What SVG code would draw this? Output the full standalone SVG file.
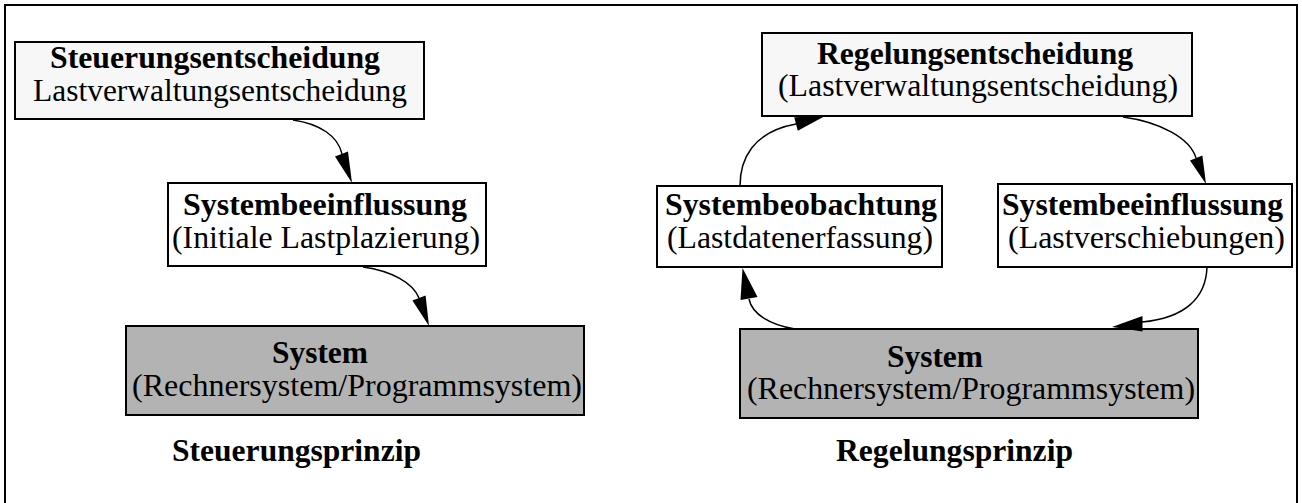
<svg xmlns="http://www.w3.org/2000/svg" width="1302" height="503" viewBox="0 0 1302 503">
  <style>
    .frame { fill: none; stroke: #000; stroke-width: 2; }
    .box { stroke: #000; stroke-width: 2; }
    .light { fill: #f7f7f7; }
    .plain { fill: #ffffff; }
    .dark { fill: #b3b3b3; }
    text { font-family: "Liberation Serif", "Times New Roman", serif; font-size: 31px; fill: #000; }
    .b { font-weight: bold; }
    .edge { fill: none; stroke: #000; stroke-width: 1.5; }
    .head { fill: #000; stroke: none; }
  </style>
  <rect width="1302" height="503" fill="#ffffff"/>
  <rect class="frame" x="5" y="5" width="1292" height="520"/>

  <!-- Steuerungsprinzip -->
  <g id="steuerungsentscheidung">
    <rect class="box light" x="15" y="42" width="409" height="77"/>
    <text class="b" x="50" y="68" textLength="330" lengthAdjust="spacingAndGlyphs">Steuerungsentscheidung</text>
    <text x="33" y="101" textLength="374" lengthAdjust="spacingAndGlyphs">Lastverwaltungsentscheidung</text>
  </g>
  <g id="systembeeinflussung-links">
    <rect class="box plain" x="168" y="183" width="318" height="83"/>
    <text class="b" x="183" y="215" textLength="284" lengthAdjust="spacingAndGlyphs">Systembeeinflussung</text>
    <text x="172" y="248" textLength="308" lengthAdjust="spacingAndGlyphs">(Initiale Lastplazierung)</text>
  </g>
  <g id="system-links">
    <rect class="box dark" x="126" y="326" width="458" height="89"/>
    <text class="b" x="272" y="363" textLength="96" lengthAdjust="spacingAndGlyphs">System</text>
    <text x="132" y="396" textLength="450" lengthAdjust="spacingAndGlyphs">(Rechnersystem/Programmsystem)</text>
  </g>
  <g id="titel-links">
    <text class="b" x="172" y="461" textLength="249" lengthAdjust="spacingAndGlyphs">Steuerungsprinzip</text>
  </g>

  <!-- Regelungsprinzip -->
  <g id="regelungsentscheidung">
    <rect class="box light" x="762" y="33" width="430" height="83"/>
    <text class="b" x="817" y="64" textLength="316" lengthAdjust="spacingAndGlyphs">Regelungsentscheidung</text>
    <text x="778" y="96" textLength="400" lengthAdjust="spacingAndGlyphs">(Lastverwaltungsentscheidung)</text>
  </g>
  <g id="systembeobachtung">
    <rect class="box plain" x="657" y="186" width="285" height="81"/>
    <text class="b" x="665" y="215" textLength="272" lengthAdjust="spacingAndGlyphs">Systembeobachtung</text>
    <text x="667" y="248" textLength="266" lengthAdjust="spacingAndGlyphs">(Lastdatenerfassung)</text>
  </g>
  <g id="systembeeinflussung-rechts">
    <rect class="box plain" x="998" y="184" width="294" height="83"/>
    <text class="b" x="1002" y="215" textLength="281" lengthAdjust="spacingAndGlyphs">Systembeeinflussung</text>
    <text x="1008" y="248" textLength="277" lengthAdjust="spacingAndGlyphs">(Lastverschiebungen)</text>
  </g>
  <g id="system-rechts">
    <rect class="box dark" x="740" y="329" width="458" height="89"/>
    <text class="b" x="887" y="367" textLength="96" lengthAdjust="spacingAndGlyphs">System</text>
    <text x="747" y="399" textLength="448" lengthAdjust="spacingAndGlyphs">(Rechnersystem/Programmsystem)</text>
  </g>
  <g id="titel-rechts">
    <text class="b" x="836" y="461" textLength="237" lengthAdjust="spacingAndGlyphs">Regelungsprinzip</text>
  </g>

  <!-- connectors: curved edges with filled arrowheads -->
  <g id="connectors">
    <path class="edge" d="M293,120 C320,124 338,136 342,154"/>
    <polygon class="head" points="352,183 335,156.5 348,151.5"/>

    <path class="edge" d="M363,267 C392,271 413,283 419,298"/>
    <polygon class="head" points="429,326 412.4,300.4 425.6,295.6"/>

    <path class="edge" d="M740,186 C740,160 752,132 796,124"/>
    <polygon class="head" points="825,116 797.8,130.8 794.2,117.2"/>

    <path class="edge" d="M1123,117 C1160,122 1190,138 1196,158"/>
    <polygon class="head" points="1206,184 1190,160.4 1202.4,155.6"/>

    <path class="edge" d="M1207,267 C1206,298 1185,318 1142,322"/>
    <polygon class="head" points="1112,327 1142.5,316 1142.5,331.5"/>

    <path class="edge" d="M795,329 C770,325 752,314 749,299"/>
    <polygon class="head" points="742.5,268 740.5,300 757.5,297"/>
  </g>
</svg>
